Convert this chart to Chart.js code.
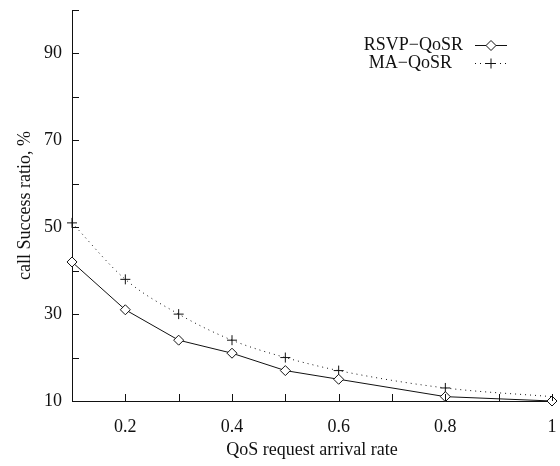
<!DOCTYPE html>
<html lang="en">
<head>
    <meta charset="UTF-8">
    <title>Call success ratio</title>
    <script src="https://cdn.jsdelivr.net/npm/chart.js"></script>
    <style>
        html, body { margin: 0; padding: 0; background: #fff; }
        #wrap { width: 560px; height: 466px; }
    </style>
</head>
<body>
    <div id="wrap"><canvas id="chart" width="560" height="466"></canvas></div>

    <script>
        // values
        const arrivalRates = [0.1, 0.2, 0.3, 0.4, 0.5, 0.6, 0.8, 1.0];
        const rsvpQosr = [42, 31, 24, 21, 17, 15, 11, 10];
        const maQosr = [51, 38, 30, 24, 20, 17, 13, 11];
        const yLabelled = [10, 30, 50, 70, 90];
        const xLabelled = [0.2, 0.4, 0.6, 0.8, 1];

        const FONT = '"Liberation Serif", "DejaVu Serif", serif';
        const INK = '#111';

        const toPoints = vals => arrivalRates.map((x, i) => ({ x: x, y: vals[i] }));

        // gnuplot style: ticks point into the plot
        const inwardTicks = {
            id: 'inwardTicks',
            afterDraw(chart) {
                const ctx = chart.ctx;
                const xs = chart.scales.x, ys = chart.scales.y;
                const area = chart.chartArea;
                ctx.save();
                ctx.strokeStyle = INK;
                ctx.lineWidth = 1;
                ctx.beginPath();
                xs.ticks.forEach(t => {
                    const px = Math.round(xs.getPixelForValue(t.value)) + 0.5;
                    ctx.moveTo(px, area.bottom);
                    ctx.lineTo(px, area.bottom - 7);
                });
                ys.ticks.forEach(t => {
                    const py = Math.round(ys.getPixelForValue(t.value)) + 0.5;
                    ctx.moveTo(area.left, py);
                    ctx.lineTo(area.left + 7, py);
                });
                ctx.stroke();
                ctx.restore();
            }
        };

        // key in the top right, text first then sample
        const keyBox = {
            id: 'keyBox',
            afterDraw(chart) {
                const ctx = chart.ctx;
                const area = chart.chartArea;
                const rows = [
                    { text: 'RSVP\u2212QoSR', ds: 0, y: area.top + 35, textRight: area.right - 89 },
                    { text: 'MA\u2212QoSR', ds: 1, y: area.top + 53, textRight: area.right - 100 }
                ];
                ctx.save();
                ctx.font = '18px ' + FONT;
                ctx.textAlign = 'right';
                ctx.textBaseline = 'middle';
                rows.forEach(r => {
                    const d = chart.data.datasets[r.ds];
                    ctx.fillStyle = INK;
                    ctx.fillText(r.text, r.textRight, r.y);
                    const x0 = area.right - 77, x1 = area.right - 45;
                    ctx.strokeStyle = INK;
                    ctx.lineWidth = 1;
                    ctx.setLineDash(d.borderDash || []);
                    ctx.beginPath();
                    ctx.moveTo(x0, r.y + 0.5);
                    ctx.lineTo(x1, r.y + 0.5);
                    ctx.stroke();
                    ctx.setLineDash([]);
                    ctx.fillStyle = '#fff';
                    Chart.helpers.drawPoint(ctx, {
                        pointStyle: d.pointStyle,
                        radius: 5,
                        borderWidth: 1
                    }, (x0 + x1) / 2, r.y + 0.5);
                });
                ctx.restore();
            }
        };

        new Chart(document.getElementById('chart'), {
            type: 'line',
            data: {
                datasets: [{
                    label: 'RSVP\u2212QoSR',
                    data: toPoints(rsvpQosr),
                    borderColor: INK,
                    borderWidth: 1,
                    pointStyle: 'rectRot',
                    pointRadius: 5,
                    pointBorderColor: INK,
                    pointBackgroundColor: '#fff',
                    pointBorderWidth: 1,
                    tension: 0,
                    clip: false
                }, {
                    label: 'MA\u2212QoSR',
                    data: toPoints(maQosr),
                    borderColor: INK,
                    borderWidth: 1,
                    borderDash: [1, 4],
                    pointStyle: 'cross',
                    pointRadius: maQosr.map((v, i) => i === maQosr.length - 1 ? 0 : 5),
                    pointBorderColor: INK,
                    pointBorderWidth: 1,
                    tension: 0.4,
                    cubicInterpolationMode: 'monotone',
                    clip: false
                }]
            },
            options: {
                responsive: false,
                animation: false,
                events: [],
                layout: { padding: { top: 10, right: 8, left: 0, bottom: 0 } },
                plugins: {
                    legend: { display: false },
                    tooltip: { enabled: false }
                },
                scales: {
                    x: {
                        type: 'linear',
                        min: 0.1,
                        max: 1,
                        grid: { display: false, drawTicks: false },
                        border: { display: true, color: INK, width: 1 },
                        ticks: {
                            stepSize: 0.1,
                            padding: 15,
                            color: INK,
                            font: { family: FONT, size: 18 },
                            maxRotation: 0,
                            autoSkip: false,
                            callback: v => {
                                const r = Math.round(v * 10) / 10;
                                return xLabelled.includes(r) ? String(r) : '';
                            }
                        },
                        title: {
                            display: true,
                            text: 'QoS request arrival rate',
                            color: INK,
                            font: { family: FONT, size: 18 },
                            padding: { top: 4, bottom: 5 }
                        },
                        afterFit: s => {
                            s.height = 65;
                            s.paddingLeft = 0;
                            s.paddingRight = 0;
                        }
                    },
                    y: {
                        min: 10,
                        max: 100,
                        grid: { display: false, drawTicks: false },
                        border: { display: true, color: INK, width: 1 },
                        ticks: {
                            stepSize: 10,
                            padding: 10,
                            color: INK,
                            font: { family: FONT, size: 18 },
                            autoSkip: false,
                            callback: v => yLabelled.includes(v) ? String(v) : ''
                        },
                        title: {
                            display: true,
                            text: 'call Success ratio, %',
                            color: INK,
                            font: { family: FONT, size: 18 },
                            padding: { top: 14, bottom: 4 }
                        },
                        afterFit: s => {
                            s.width = 72;
                            s.paddingTop = 0;
                            s.paddingBottom = 0;
                        }
                    }
                }
            },
            plugins: [inwardTicks, keyBox]
        });
    </script>
</body>
</html>
